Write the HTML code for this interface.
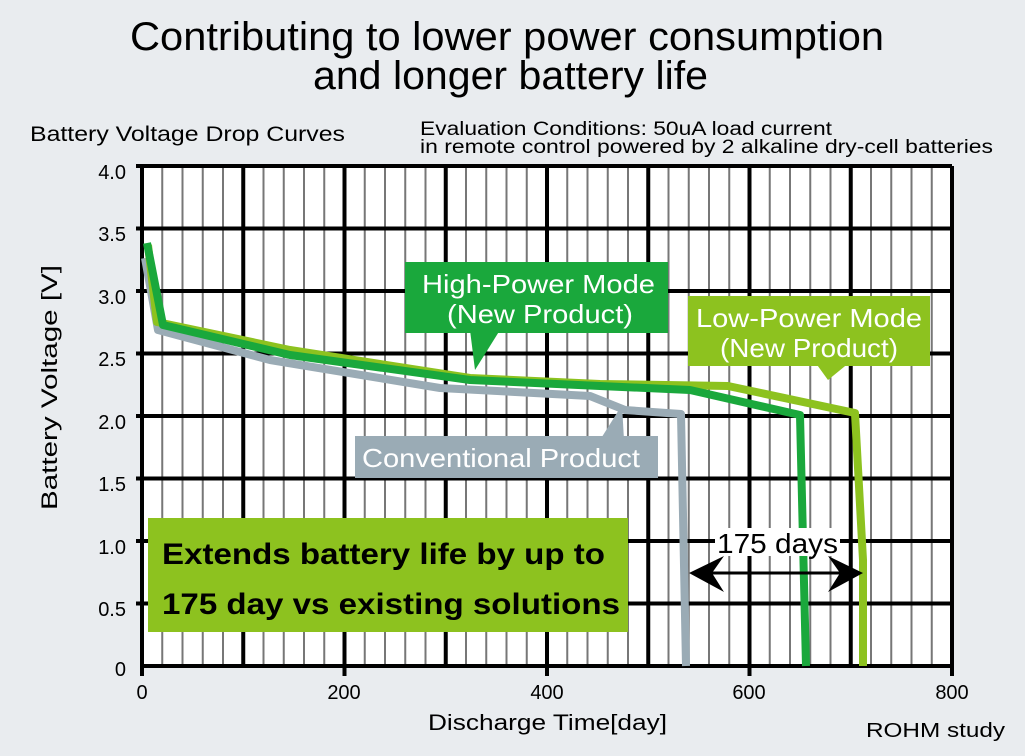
<!DOCTYPE html>
<html><head><meta charset="utf-8"><style>
body{margin:0;width:1025px;height:751px;background:#e9ecef;font-family:"Liberation Sans",sans-serif;overflow:hidden}
</style></head><body>
<svg width="1025" height="751" xmlns="http://www.w3.org/2000/svg" font-family="Liberation Sans, sans-serif">
<rect width="1025" height="751" fill="#e9ecef"/>
<text x="130" y="50" font-size="40" textLength="754" lengthAdjust="spacingAndGlyphs">Contributing to lower power consumption</text>
<text x="313" y="89" font-size="40" textLength="395" lengthAdjust="spacingAndGlyphs">and longer battery life</text>
<text x="30" y="141" font-size="21" textLength="315" lengthAdjust="spacingAndGlyphs">Battery Voltage Drop Curves</text>
<text x="420" y="135" font-size="19" textLength="412" lengthAdjust="spacingAndGlyphs">Evaluation Conditions: 50uA load current</text>
<text x="420" y="153" font-size="19" textLength="573" lengthAdjust="spacingAndGlyphs">in remote control powered by 2 alkaline dry-cell batteries</text>
<rect x="142" y="166" width="810" height="500" fill="#fff"/>
<g stroke="#777" stroke-width="2">
<path d="M162.25 166V666M182.5 166V666M202.75 166V666M223 166V666M263.5 166V666M283.75 166V666M304 166V666M324.25 166V666M364.75 166V666M385 166V666M405.25 166V666M425.5 166V666M466 166V666M486.25 166V666M506.5 166V666M526.75 166V666M567.25 166V666M587.5 166V666M607.75 166V666M628 166V666M668.5 166V666M688.75 166V666M709 166V666M729.25 166V666M769.75 166V666M790 166V666M810.25 166V666M830.5 166V666M871 166V666M891.25 166V666M911.5 166V666M931.75 166V666"/>
</g>
<g stroke="#000" stroke-width="4">
<path d="M142 166V666M243.25 166V666M344.5 166V666M445.75 166V666M547 166V666M648.25 166V666M749.5 166V666M850.75 166V666M952 166V666"/>
<path d="M136 166H952M136 228.5H952M136 291H952M136 353.5H952M136 416H952M136 478.5H952M136 541H952M136 603.5H952"/>
<path d="M140 666H952M142 666V676M344.5 666V676M547 666V676M749.5 666V676M952 666V676"/>
</g>
<g font-size="20" text-anchor="end">
<text x="126" y="179">4.0</text><text x="126" y="241">3.5</text><text x="126" y="304">3.0</text><text x="126" y="366">2.5</text><text x="126" y="429">2.0</text><text x="126" y="491">1.5</text><text x="126" y="554">1.0</text><text x="126" y="616">0.5</text><text x="126" y="676">0</text>
</g>
<g font-size="20" text-anchor="middle">
<text x="142" y="699">0</text><text x="344" y="699">200</text><text x="547" y="699">400</text><text x="749" y="699">600</text><text x="952" y="699">800</text>
</g>
<text x="428" y="730" font-size="22" textLength="239" lengthAdjust="spacingAndGlyphs">Discharge Time[day]</text>
<text x="866" y="737" font-size="20" textLength="139" lengthAdjust="spacingAndGlyphs">ROHM study</text>
<text transform="translate(57,510) rotate(-90)" font-size="22" textLength="245" lengthAdjust="spacingAndGlyphs">Battery Voltage [V]</text>
<g fill="none" stroke-width="8" stroke-linejoin="round">
<polyline stroke="#9aabb5" points="145,258 158,330 270,360 440,388 590,396 625,410 681,414 686,666"/>
<polyline stroke="#8dc21f" points="148,245 157,322 290,350 470,378 600,384 728,386 855,413 863,560 863,666"/>
<polyline stroke="#1aa83c" points="147,243 163,325 290,355 470,380 600,386 690,390 800,415 806,666"/>
</g>
<polygon points="470,330 500,330 475,370" fill="#1aa83c"/>
<rect x="405" y="262" width="263" height="71" fill="#1aa83c"/>
<text x="422" y="293" font-size="26" fill="#fff" textLength="233" lengthAdjust="spacingAndGlyphs">High-Power Mode</text>
<text x="447" y="323" font-size="26" fill="#fff" textLength="186" lengthAdjust="spacingAndGlyphs">(New Product)</text>
<polygon points="815,362 850,362 828,380" fill="#8dc21f"/>
<rect x="688" y="296" width="242" height="70" fill="#8dc21f"/>
<text x="696" y="327" font-size="26" fill="#fff" textLength="226" lengthAdjust="spacingAndGlyphs">Low-Power Mode</text>
<text x="720" y="357" font-size="26" fill="#fff" textLength="178" lengthAdjust="spacingAndGlyphs">(New Product)</text>
<polygon points="600,440 622,405 624,440" fill="#9aabb5"/>
<rect x="355" y="436" width="303" height="42" fill="#9aabb5"/>
<text x="362" y="467" font-size="26" fill="#fff" textLength="278" lengthAdjust="spacingAndGlyphs">Conventional Product</text>
<rect x="148" y="518" width="480" height="114" fill="#8dc21f"/>
<text x="162" y="564" font-size="30" font-weight="bold" textLength="443" lengthAdjust="spacingAndGlyphs">Extends battery life by up to</text>
<text x="162" y="614" font-size="30" font-weight="bold" textLength="458" lengthAdjust="spacingAndGlyphs">175 day vs existing solutions</text>
<rect x="715" y="528" width="125" height="28" fill="#fff"/>
<text x="717" y="553" font-size="28" textLength="121" lengthAdjust="spacingAndGlyphs">175 days</text>
<line x1="700" y1="573" x2="850" y2="573" stroke="#000" stroke-width="3"/>
<polygon points="689,573 724,556 712,573 724,592" fill="#000"/>
<polygon points="863,573 828,556 840,573 828,592" fill="#000"/>
</svg>
</body></html>
